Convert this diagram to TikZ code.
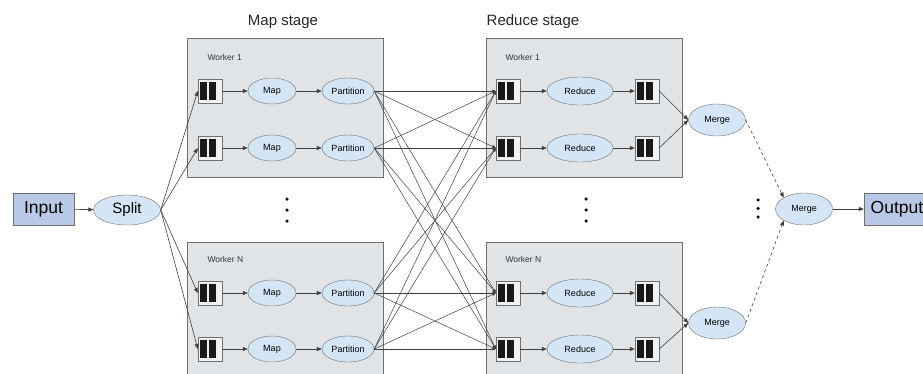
\documentclass[tikz,border=0pt]{standalone}
\usepackage{fontspec}
\setmainfont{Liberation Sans}
\usetikzlibrary{arrows.meta, shapes.geometric}
\definecolor{wFill}{HTML}{E1E4E6}
\definecolor{wEdge}{HTML}{6F6F6F}
\definecolor{eFill}{HTML}{D4E6F6}
\definecolor{ioFill}{HTML}{B7C9E6}
\definecolor{lnGray}{HTML}{404040}

\begin{document}
\begin{tikzpicture}[x=1pt, y=-1pt,
  worker/.style={draw=wEdge, fill=wFill, minimum width=196pt, inner sep=0pt},
  task/.style={ellipse, draw=wEdge, fill=eFill, inner sep=0pt,
               font=\fontsize{9}{10}\selectfont, minimum height=26pt},
  queue/.style={draw=wEdge, fill=wFill!50!white, minimum size=24pt, inner sep=0pt,
    path picture={
      \fill[black!90] ([shift={(2pt,3pt)}]path picture bounding box.south west) rectangle ++(7pt,18pt);
      \fill[black!90] ([shift={(11pt,3pt)}]path picture bounding box.south west) rectangle ++(7pt,18pt);
    }},
  io/.style={draw=wEdge, fill=ioFill, minimum height=32pt, inner sep=0pt,
             font=\fontsize{17.5}{19}\selectfont},
  flow/.style={draw=lnGray, line width=0.6pt, -{Triangle[length=5pt,width=4pt]}},
  shuffle/.style={draw=lnGray, line width=0.5pt, -{Triangle[length=3.5pt,width=3pt]}},
  dot/.style={circle, fill=black, inner sep=0pt, minimum size=3.5pt},
  wlabel/.style={anchor=west, font=\fontsize{8.5}{9}\selectfont, text=black!80},
  stage/.style={font=\fontsize{15}{16}\selectfont, text=black!85},
]
  \clip (0,0) rectangle (923,373);
  \useasboundingbox (0,0) rectangle (923,373);

  % stage titles
  \node[stage] (mapT) at (283,22) {Map stage};
  \node[stage] (redT) at (533,22) {Reduce stage};

  % worker boxes
  \node[worker, minimum height=139pt] (mapA) at (285,107.5) {};
  \node[worker, minimum height=148pt] (mapN) at (285,316) {};
  \node[worker, minimum height=139pt] (redA) at (584,107.5) {};
  \node[worker, minimum height=148pt] (redN) at (584,316) {};
  \node[wlabel] (mapAl) at (204,57) {Worker 1};
  \node[wlabel] (mapNl) at (204,259) {Worker N};
  \node[wlabel] (redAl) at (502,57) {Worker 1};
  \node[wlabel] (redNl) at (502,259) {Worker N};

  % input side
  \node[io, minimum width=61pt] (in) at (43.5,209) {Input};
  \node[task, minimum width=67pt, minimum height=30pt,
        font=\fontsize{15}{16}\selectfont] (split) at (127,210) {Split};
  \draw[flow] (in) -- (split);

  % rows of workers
  \foreach \i/\y in {1/91, 2/148, 3/293, 4/349} {
    \node[queue] (mq\i) at (210,\y) {};
    \node[task, minimum width=48pt] (m\i) at (272,\y) {Map};
    \node[task, minimum width=52pt] (p\i) at (348,\y) {Partition};
    \node[queue] (rq\i) at (508,\y) {};
    \node[task, minimum width=66pt, minimum height=28pt] (r\i) at (580,\y) {Reduce};
    \node[queue] (oq\i) at (647,\y) {};
    \draw[flow] (split.east) -- (mq\i.west);
    \draw[flow] (mq\i) -- (m\i);
    \draw[flow] (m\i) -- (p\i);
    \draw[flow] (rq\i) -- (r\i);
    \draw[flow] (r\i) -- (oq\i);
  }

  % shuffle
  \foreach \i in {1,...,4}
    \foreach \j in {1,...,4}
      \draw[shuffle] (p\i.east) -- (rq\j.west);

  % merging
  \node[task, minimum width=57pt, minimum height=32pt] (g1) at (717,120) {Merge};
  \node[task, minimum width=57pt, minimum height=32pt] (g2) at (717,323) {Merge};
  \node[task, minimum width=57pt, minimum height=32pt] (gc) at (804,209) {Merge};
  \node[io, minimum width=66pt] (out) at (897,209) {Output};
  \draw[flow] (oq1.east) -- (g1.west);
  \draw[flow] (oq2.east) -- (g1.west);
  \draw[flow] (oq3.east) -- (g2.west);
  \draw[flow] (oq4.east) -- (g2.west);
  \draw[flow, dashed] (g1.east) -- (gc.north west);
  \draw[flow, dashed] (g2.east) -- (gc.south west);
  \draw[flow] (gc) -- (out);

  % vertical dots
  \foreach \k/\y in {1/199, 2/210, 3/221} {
    \node[dot] (md\k) at (287,\y) {};
    \node[dot] (rd\k) at (586,\y) {};
  }
  \foreach \k/\y in {1/200, 2/208.5, 3/217} {
    \node[dot] (gd\k) at (758,\y) {};
  }
\end{tikzpicture}
\end{document}
